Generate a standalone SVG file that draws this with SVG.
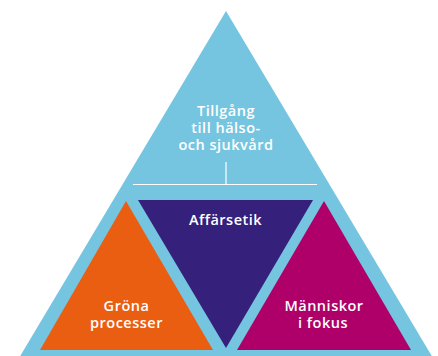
<svg xmlns="http://www.w3.org/2000/svg" width="438" height="356" viewBox="0 0 438 356">
<style>
.lbl{font-family:"Open Sans","Liberation Sans",sans-serif;font-weight:600;font-size:14.5px;letter-spacing:0.5px;fill:#ffffff;text-anchor:middle}
.ln{stroke:#ffffff;stroke-width:1.2;fill:none}
</style>
<rect width="438" height="356" fill="#ffffff"/>
<g id="outer">
<polygon points="226,11 433,358 19,358" fill="#76C5E0"/>
<text class="lbl" x="226" y="116">Tillgång</text>
<text class="lbl" x="226" y="133">till hälso-</text>
<text class="lbl" x="226" y="150">och sjukvård</text>
</g>
<g id="connectors">
<line class="ln" x1="226" y1="162" x2="226" y2="184.5"/>
<line class="ln" x1="133" y1="184.5" x2="317" y2="184.5"/>
</g>
<g id="grona">
<polygon points="126,201 213,350 40,350" fill="#EA5E12"/>
<text class="lbl" x="126.5" y="311">Gröna</text>
<text class="lbl" x="126.5" y="328">processer</text>
</g>
<g id="affarsetik">
<polygon points="138,200 313,200 226,348" fill="#35207B"/>
<text class="lbl" x="225.5" y="225">Affärsetik</text>
</g>
<g id="manniskor">
<polygon points="324,201 411,350 237,350" fill="#AE0068"/>
<text class="lbl" x="324" y="311">Människor</text>
<text class="lbl" x="323" y="328">i fokus</text>
</g>
</svg>
